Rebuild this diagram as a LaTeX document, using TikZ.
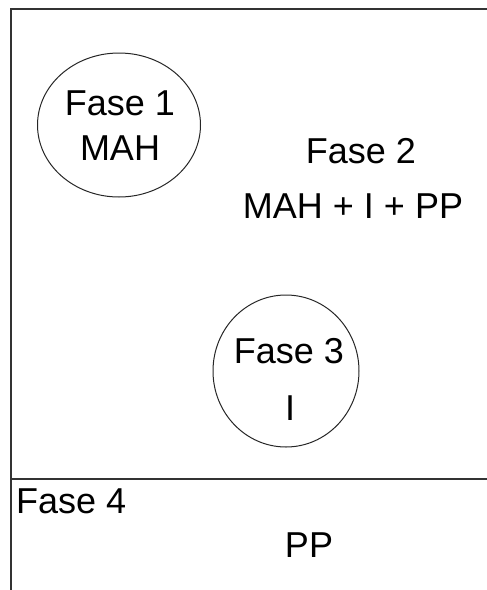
\documentclass[tikz,border=0pt]{standalone}
\usepackage{fontspec}
\setmainfont{Liberation Sans}
\usetikzlibrary{shapes.geometric}
\begin{document}
\begin{tikzpicture}[x=1pt,y=-1pt,
  frameline/.style={draw=black!80,line width=2pt},
  phase/.style={ellipse,draw=black!85,line width=1pt,inner sep=0pt},
  lbl/.style={anchor=base,inner sep=0pt,font=\fontsize{36}{40}\selectfont}]
  \clip (0,0) rectangle (487,590);
  % outer frame and divider of the bottom band
  \draw[frameline] (11,9) rectangle (520,620);
  \coordinate (dl) at (11,479);
  \coordinate (dr) at (520,479);
  \draw[frameline] (dl) -- (dr);
  % phase ellipses
  \node[phase,minimum width=163pt,minimum height=144pt] (e1) at (119,125) {};
  \node[phase,minimum width=146pt,minimum height=152pt] (e3) at (286,371) {};
  % labels
  \node[lbl] (f1) at (120,115) {Fase 1};
  \node[lbl] (m1) at (120,160) {MAH};
  \node[lbl] (f2) at (361,163) {Fase 2};
  \node[lbl] (m2) at (353,218) {MAH + I + PP};
  \node[lbl] (f3) at (289,363) {Fase 3};
  \node[lbl] (m3) at (290,420) {I};
  \node[lbl,anchor=base west] (f4) at (16,513) {Fase 4};
  \node[lbl] (m4) at (309,557) {PP};
\end{tikzpicture}
\end{document}
